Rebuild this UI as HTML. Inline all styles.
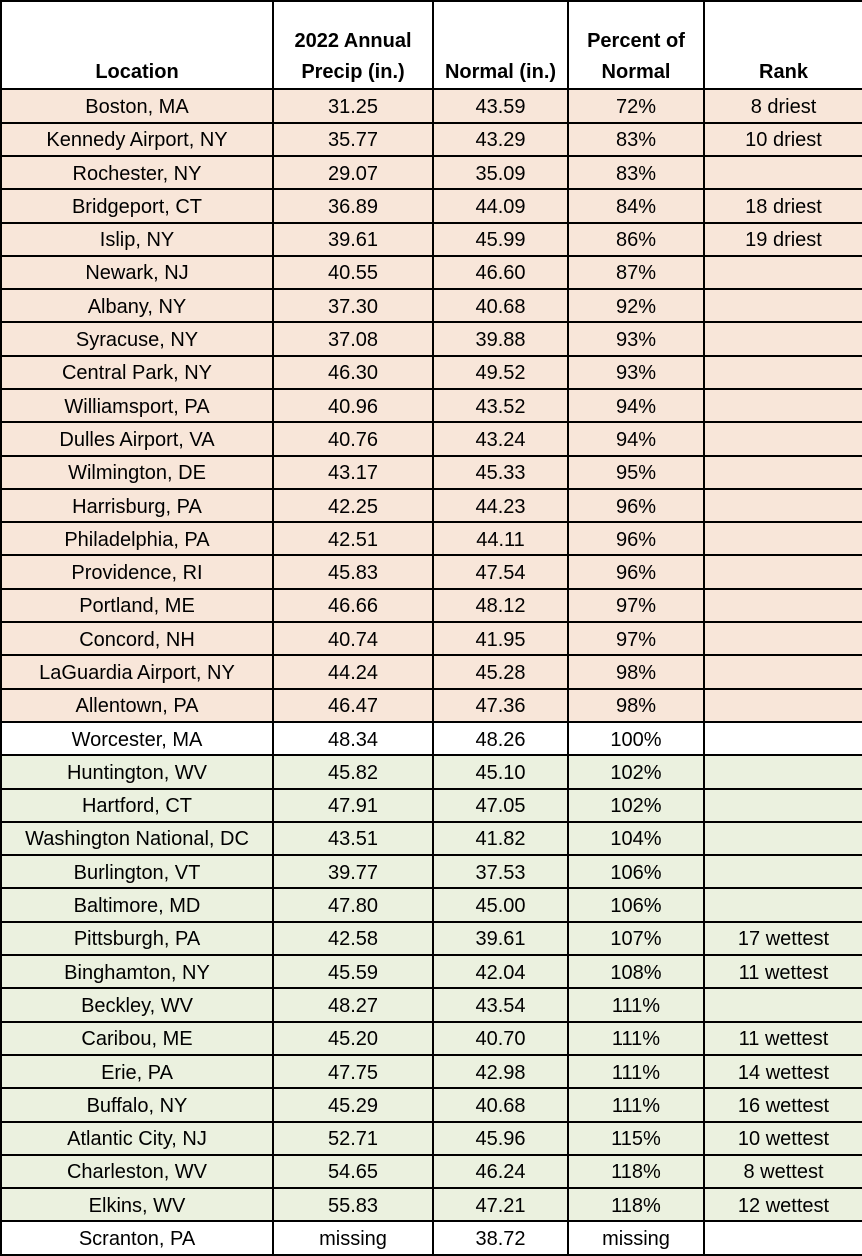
<!DOCTYPE html>
<html><head><meta charset="utf-8"><style>
html,body{margin:0;padding:0;background:#fff;}
table{border-collapse:collapse;table-layout:fixed;width:862px;height:1256px;font-family:"Liberation Sans",Carlito,sans-serif;font-size:20px;color:#000;}
td,th{border:2px solid #000;text-align:center;padding:0;line-height:22px;white-space:nowrap;overflow:hidden;}
th{font-weight:bold;vertical-align:bottom;padding-bottom:0;height:86px;font-size:20px;line-height:31px;}
td{height:33.2px;padding-top:2px;box-sizing:border-box;}
tr.d td{background:#f8e6d9;}
tr.w td{background:#ebf1df;}
</style></head><body>
<table>
<colgroup><col style="width:272px"><col style="width:160px"><col style="width:135px"><col style="width:136px"><col style="width:159px"></colgroup>
<tr><th>Location</th><th>2022 Annual<br>Precip (in.)</th><th>Normal (in.)</th><th>Percent of<br>Normal</th><th>Rank</th></tr>
<tr class="d"><td>Boston, MA</td><td>31.25</td><td>43.59</td><td>72%</td><td>8 driest</td></tr>
<tr class="d"><td>Kennedy Airport, NY</td><td>35.77</td><td>43.29</td><td>83%</td><td>10 driest</td></tr>
<tr class="d"><td>Rochester, NY</td><td>29.07</td><td>35.09</td><td>83%</td><td></td></tr>
<tr class="d"><td>Bridgeport, CT</td><td>36.89</td><td>44.09</td><td>84%</td><td>18 driest</td></tr>
<tr class="d"><td>Islip, NY</td><td>39.61</td><td>45.99</td><td>86%</td><td>19 driest</td></tr>
<tr class="d"><td>Newark, NJ</td><td>40.55</td><td>46.60</td><td>87%</td><td></td></tr>
<tr class="d"><td>Albany, NY</td><td>37.30</td><td>40.68</td><td>92%</td><td></td></tr>
<tr class="d"><td>Syracuse, NY</td><td>37.08</td><td>39.88</td><td>93%</td><td></td></tr>
<tr class="d"><td>Central Park, NY</td><td>46.30</td><td>49.52</td><td>93%</td><td></td></tr>
<tr class="d"><td>Williamsport, PA</td><td>40.96</td><td>43.52</td><td>94%</td><td></td></tr>
<tr class="d"><td>Dulles Airport, VA</td><td>40.76</td><td>43.24</td><td>94%</td><td></td></tr>
<tr class="d"><td>Wilmington, DE</td><td>43.17</td><td>45.33</td><td>95%</td><td></td></tr>
<tr class="d"><td>Harrisburg, PA</td><td>42.25</td><td>44.23</td><td>96%</td><td></td></tr>
<tr class="d"><td>Philadelphia, PA</td><td>42.51</td><td>44.11</td><td>96%</td><td></td></tr>
<tr class="d"><td>Providence, RI</td><td>45.83</td><td>47.54</td><td>96%</td><td></td></tr>
<tr class="d"><td>Portland, ME</td><td>46.66</td><td>48.12</td><td>97%</td><td></td></tr>
<tr class="d"><td>Concord, NH</td><td>40.74</td><td>41.95</td><td>97%</td><td></td></tr>
<tr class="d"><td>LaGuardia Airport, NY</td><td>44.24</td><td>45.28</td><td>98%</td><td></td></tr>
<tr class="d"><td>Allentown, PA</td><td>46.47</td><td>47.36</td><td>98%</td><td></td></tr>
<tr><td>Worcester, MA</td><td>48.34</td><td>48.26</td><td>100%</td><td></td></tr>
<tr class="w"><td>Huntington, WV</td><td>45.82</td><td>45.10</td><td>102%</td><td></td></tr>
<tr class="w"><td>Hartford, CT</td><td>47.91</td><td>47.05</td><td>102%</td><td></td></tr>
<tr class="w"><td>Washington National, DC</td><td>43.51</td><td>41.82</td><td>104%</td><td></td></tr>
<tr class="w"><td>Burlington, VT</td><td>39.77</td><td>37.53</td><td>106%</td><td></td></tr>
<tr class="w"><td>Baltimore, MD</td><td>47.80</td><td>45.00</td><td>106%</td><td></td></tr>
<tr class="w"><td>Pittsburgh, PA</td><td>42.58</td><td>39.61</td><td>107%</td><td>17 wettest</td></tr>
<tr class="w"><td>Binghamton, NY</td><td>45.59</td><td>42.04</td><td>108%</td><td>11 wettest</td></tr>
<tr class="w"><td>Beckley, WV</td><td>48.27</td><td>43.54</td><td>111%</td><td></td></tr>
<tr class="w"><td>Caribou, ME</td><td>45.20</td><td>40.70</td><td>111%</td><td>11 wettest</td></tr>
<tr class="w"><td>Erie, PA</td><td>47.75</td><td>42.98</td><td>111%</td><td>14 wettest</td></tr>
<tr class="w"><td>Buffalo, NY</td><td>45.29</td><td>40.68</td><td>111%</td><td>16 wettest</td></tr>
<tr class="w"><td>Atlantic City, NJ</td><td>52.71</td><td>45.96</td><td>115%</td><td>10 wettest</td></tr>
<tr class="w"><td>Charleston, WV</td><td>54.65</td><td>46.24</td><td>118%</td><td>8 wettest</td></tr>
<tr class="w"><td>Elkins, WV</td><td>55.83</td><td>47.21</td><td>118%</td><td>12 wettest</td></tr>
<tr><td>Scranton, PA</td><td>missing</td><td>38.72</td><td>missing</td><td></td></tr>
</table>
</body></html>
